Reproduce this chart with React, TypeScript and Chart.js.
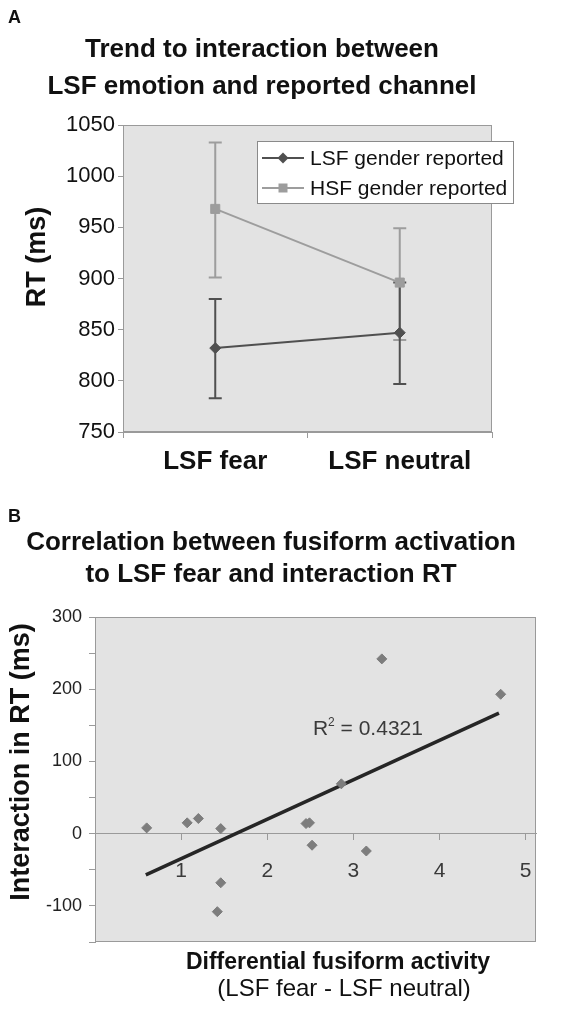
import React, { useEffect, useRef } from "react";
import { Chart, registerables } from "chart.js";
Chart.register(...registerables);

const FONT = '"Liberation Sans", Arial, Helvetica, sans-serif';

// ---------- Panel A data ----------
const panelALabel = "A";
const titleA = ["Trend to interaction between", "LSF emotion and reported channel"];
const yTitleA = "RT (ms)";
const categoriesA = ["LSF fear", "LSF neutral"];
const lsfMeans = [832, 847];
const lsfLow = [783, 797];
const lsfHigh = [880, 896];
const hsfMeans = [968, 896];
const hsfLow = [901, 840];
const hsfHigh = [1033, 949];
const seriesNamesA = ["LSF gender reported", "HSF gender reported"];

// ---------- Panel B data ----------
const panelBLabel = "B";
const titleB = ["Correlation between fusiform activation", "to LSF fear and interaction RT"];
const yTitleB = "Interaction in RT (ms)";
const xTitleB = ["Differential fusiform activity", "(LSF fear - LSF neutral)"];
const xTickValuesB = [1, 2, 3, 4, 5];
const fusiformX = [0.6, 1.07, 1.2, 1.46, 1.46, 1.42, 3.33, 4.71, 2.86, 2.45, 2.49, 2.52, 3.15];
const interactionY = [8, 15, 21, 7, -68, -108, 242, 193, 69, 14, 15, -16, -24];
const trendX = [0.59, 4.69];
const trendY = [-57, 167];
const r2Value = "0.4321";

const LSF_COLOR = "#505050";
const HSF_COLOR = "#9d9d9d";
const PLOT_BG = "#e3e3e3";
const AXIS_COLOR = "#9a9a9a";

function diamond(ctx: CanvasRenderingContext2D, x: number, y: number, r: number) {
  ctx.beginPath();
  ctx.moveTo(x, y - r);
  ctx.lineTo(x + r, y);
  ctx.lineTo(x, y + r);
  ctx.lineTo(x - r, y);
  ctx.closePath();
  ctx.fill();
}

const plotBgPlugin = {
  id: "plotBg",
  beforeDraw(chart: any) {
    const { ctx, chartArea: a } = chart;
    ctx.save();
    ctx.fillStyle = PLOT_BG;
    ctx.fillRect(a.left, a.top, a.right - a.left, a.bottom - a.top);
    ctx.restore();
  },
  beforeDatasetsDraw(chart: any) {
    const { ctx, chartArea: a } = chart;
    ctx.save();
    ctx.strokeStyle = AXIS_COLOR;
    ctx.lineWidth = 1;
    ctx.strokeRect(a.left + 0.5, a.top + 0.5, a.right - a.left - 1, a.bottom - a.top - 1);
    ctx.restore();
  },
};

function ChartA() {
  const ref = useRef<HTMLCanvasElement>(null);
  useEffect(() => {
    const errPlugin = {
      id: "errBars",
      beforeDatasetsDraw(chart: any) {
        const { ctx } = chart;
        const x = chart.scales.x;
        const y = chart.scales.y;
        const sets = [
          { low: hsfLow, high: hsfHigh, color: HSF_COLOR },
          { low: lsfLow, high: lsfHigh, color: LSF_COLOR },
        ];
        ctx.save();
        ctx.lineWidth = 2;
        sets.forEach((s) => {
          ctx.strokeStyle = s.color;
          categoriesA.forEach((_, i) => {
            const px = x.getPixelForValue(i);
            const y1 = y.getPixelForValue(s.low[i]);
            const y2 = y.getPixelForValue(s.high[i]);
            ctx.beginPath();
            ctx.moveTo(px, y1);
            ctx.lineTo(px, y2);
            ctx.moveTo(px - 6.5, y1);
            ctx.lineTo(px + 6.5, y1);
            ctx.moveTo(px - 6.5, y2);
            ctx.lineTo(px + 6.5, y2);
            ctx.stroke();
          });
        });
        ctx.restore();
      },
    };
    const textPlugin = {
      id: "textsA",
      afterDraw(chart: any) {
        const { ctx, chartArea: a } = chart;
        ctx.save();
        ctx.fillStyle = "#111";
        ctx.textBaseline = "alphabetic";
        ctx.textAlign = "left";
        ctx.font = `bold 18px ${FONT}`;
        ctx.fillText(panelALabel, 8, 23);
        ctx.textAlign = "center";
        ctx.font = `bold 26px ${FONT}`;
        ctx.fillText(titleA[0], 262, 57);
        ctx.fillText(titleA[1], 262, 94);
        // y title
        ctx.save();
        ctx.translate(38, 257);
        ctx.rotate(-Math.PI / 2);
        ctx.textBaseline = "middle";
        ctx.font = `bold 27px ${FONT}`;
        ctx.fillText(yTitleA, 0, 0);
        ctx.restore();
        // legend
        const lx = a.left + 134;
        const ly = a.top + 16;
        const lw = 257;
        const lh = 63;
        ctx.fillStyle = "#ffffff";
        ctx.fillRect(lx, ly, lw, lh);
        ctx.strokeStyle = "#8a8a8a";
        ctx.lineWidth = 1;
        ctx.strokeRect(lx + 0.5, ly + 0.5, lw - 1, lh - 1);
        chart.data.datasets.forEach((ds: any, i: number) => {
          const ry = ly + 17 + i * 30;
          ctx.strokeStyle = ds.borderColor;
          ctx.lineWidth = 2;
          ctx.beginPath();
          ctx.moveTo(lx + 5, ry);
          ctx.lineTo(lx + 47, ry);
          ctx.stroke();
          ctx.fillStyle = ds.backgroundColor;
          if (ds.pointStyle === "rectRot") diamond(ctx, lx + 26, ry, 5.5);
          else ctx.fillRect(lx + 26 - 4.5, ry - 4.5, 9, 9);
          ctx.fillStyle = "#111";
          ctx.textAlign = "left";
          ctx.textBaseline = "middle";
          ctx.font = `21px ${FONT}`;
          ctx.fillText(ds.label, lx + 53, ry + 1);
        });
        ctx.restore();
      },
    };
    const chart = new Chart(ref.current!, {
      type: "line",
      data: {
        labels: categoriesA,
        datasets: [
          {
            label: seriesNamesA[0],
            data: lsfMeans,
            borderColor: LSF_COLOR,
            backgroundColor: LSF_COLOR,
            borderWidth: 2,
            pointStyle: "rectRot",
            pointRadius: 5.5,
            pointBorderWidth: 1,
          },
          {
            label: seriesNamesA[1],
            data: hsfMeans,
            borderColor: HSF_COLOR,
            backgroundColor: HSF_COLOR,
            borderWidth: 2,
            pointStyle: "rect",
            pointRadius: 6.4,
            pointBorderWidth: 1,
          },
        ],
      },
      options: {
        responsive: false,
        animation: false,
        devicePixelRatio: 1,
        layout: { padding: { top: 125, right: 86, left: 0, bottom: 0 } },
        plugins: { legend: { display: false }, tooltip: { enabled: false }, title: { display: false } },
        scales: {
          x: {
            type: "category",
            offset: true,
            grid: { display: true, drawOnChartArea: false, offset: true, tickLength: 6, color: AXIS_COLOR },
            border: { color: AXIS_COLOR },
            ticks: { font: { family: FONT, size: 26, weight: "bold" }, color: "#111", padding: 8 },
            afterFit: (s: any) => {
              s.height = 68;
            },
          },
          y: {
            min: 750,
            max: 1050,
            grid: { drawOnChartArea: false, tickLength: 5, color: AXIS_COLOR },
            border: { color: AXIS_COLOR },
            ticks: {
              stepSize: 50,
              font: { family: FONT, size: 22 },
              color: "#111",
              padding: 3,
              callback: (v: any) => String(v),
            },
            afterFit: (s: any) => {
              s.width = 123;
            },
          },
        },
      } as any,
      plugins: [plotBgPlugin, errPlugin, textPlugin],
    });
    return () => chart.destroy();
  }, []);
  return <canvas ref={ref} width={578} height={500} style={{ display: "block" }} />;
}

function ChartB() {
  const ref = useRef<HTMLCanvasElement>(null);
  useEffect(() => {
    const textPlugin = {
      id: "textsB",
      afterDraw(chart: any) {
        const { ctx } = chart;
        const xs = chart.scales.x;
        const ys = chart.scales.y;
        ctx.save();
        ctx.fillStyle = "#111";
        ctx.textBaseline = "alphabetic";
        ctx.textAlign = "left";
        ctx.font = `bold 18px ${FONT}`;
        ctx.fillText(panelBLabel, 8, 22);
        ctx.textAlign = "center";
        ctx.font = `bold 26px ${FONT}`;
        ctx.fillText(titleB[0], 271, 50);
        ctx.fillText(titleB[1], 271, 82);
        // y title
        ctx.save();
        ctx.translate(22, 262);
        ctx.rotate(-Math.PI / 2);
        ctx.textBaseline = "middle";
        ctx.font = `bold 27px ${FONT}`;
        ctx.fillText(yTitleB, 0, 0);
        ctx.restore();
        // x title
        ctx.font = `bold 23px ${FONT}`;
        ctx.fillText(xTitleB[0], 338, 469);
        ctx.font = `24px ${FONT}`;
        ctx.fillText(xTitleB[1], 344, 496);
        // R^2 label
        const rx = xs.getPixelForValue(2.53);
        const ry = ys.getPixelForValue(137);
        ctx.fillStyle = "#3a3a3a";
        ctx.textAlign = "left";
        ctx.font = `21px ${FONT}`;
        ctx.fillText("R", rx, ry);
        const rw = ctx.measureText("R").width;
        ctx.font = `12px ${FONT}`;
        ctx.fillText("2", rx + rw, ry - 9);
        const sw = ctx.measureText("2").width;
        ctx.font = `21px ${FONT}`;
        ctx.fillText(" = " + r2Value, rx + rw + sw, ry);
        ctx.restore();
      },
    };
    const chart = new Chart(ref.current!, {
      type: "scatter",
      data: {
        datasets: [
          {
            label: "points",
            data: fusiformX.map((x, i) => ({ x, y: interactionY[i] })),
            showLine: false,
            pointStyle: "rectRot",
            pointRadius: 5,
            pointBorderWidth: 1,
            backgroundColor: "#7d7d7d",
            borderColor: "#7d7d7d",
          },
          {
            label: "trend",
            data: trendX.map((x, i) => ({ x, y: trendY[i] })),
            showLine: true,
            pointRadius: 0,
            borderColor: "#262626",
            borderWidth: 3.5,
          },
        ],
      },
      options: {
        responsive: false,
        animation: false,
        devicePixelRatio: 1,
        layout: { padding: { top: 117, right: 42, left: 0, bottom: 67 } },
        plugins: { legend: { display: false }, tooltip: { enabled: false }, title: { display: false } },
        scales: {
          x: {
            type: "linear",
            position: { y: 0 },
            min: 0,
            max: 5.12,
            afterBuildTicks: (s: any) => {
              s.ticks = xTickValuesB.map((v) => ({ value: v }));
            },
            grid: { drawOnChartArea: false, tickLength: 6, color: AXIS_COLOR },
            border: { color: AXIS_COLOR },
            ticks: {
              stepSize: 1,
              font: { family: FONT, size: 21 },
              color: "#3a3a3a",
              padding: 19,
              callback: (v: any) => String(v),
            },
          },
          y: {
            min: -150,
            max: 300,
            grid: { drawOnChartArea: false, tickLength: 6, color: AXIS_COLOR },
            border: { color: AXIS_COLOR },
            ticks: {
              stepSize: 50,
              autoSkip: false,
              font: { family: FONT, size: 18 },
              color: "#222",
              padding: 7,
              callback: (v: any) => (Number(v) % 100 === 0 ? String(v) : ""),
            },
            afterFit: (s: any) => {
              s.width = 95;
            },
          },
        },
      } as any,
      plugins: [plotBgPlugin, textPlugin],
    });
    return () => chart.destroy();
  }, []);
  return <canvas ref={ref} width={578} height={509} style={{ display: "block" }} />;
}

export default function App() {
  return (
    <div style={{ position: "absolute", left: 0, top: 0, width: 578, height: 1009, background: "#fff" }}>
      <ChartA />
      <ChartB />
    </div>
  );
}
